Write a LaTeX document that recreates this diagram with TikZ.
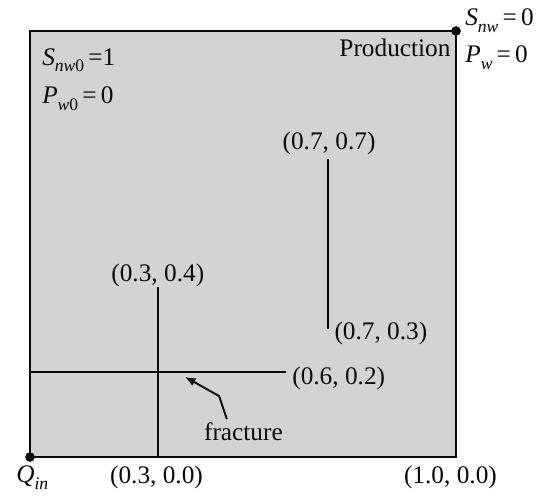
\documentclass[tikz,border=0pt]{standalone}
\usepackage{fontspec}
\setmainfont{Liberation Serif}
\usepackage{xcolor}
\definecolor{fxGray}{RGB}{211,211,211}
\definecolor{fxInk} {RGB}{ 10, 10, 10}
\usepackage{tikz}
\usetikzlibrary{
  arrows.meta,
  positioning,
}

\newcommand{\satvar}[2]{{\itshape #1}\raisebox{-0.27em}{\fontsize{10}{12}\selectfont #2}}

\begin{document}
\begin{tikzpicture}[
  x=8.52cm, y=8.52cm,
  >=Latex,
  reservoir/.style={draw=fxInk, line width=1.3pt, fill=fxGray},
  frac/.style={draw=fxInk, line width=1.1pt},
  lbl/.style={inner sep=0pt, font=\fontsize{14.4}{17}\selectfont, text=fxInk},
  well/.style={circle, fill=fxInk, inner sep=0pt, minimum size=5.5pt},
  pointer/.style={line width=1.1pt, color=fxInk,
                  arrows={-Latex[length=6pt, width=5pt]}},
]
  \useasboundingbox (-0.0704,-0.0939) rectangle (1.2066,1.0728);

  % Unit square reservoir
  \draw[reservoir] (0,0) rectangle (1,1);
  \node[well] (inj)  at (0,0) {};
  \node[well] (prod) at (1,1) {};

  % Fracture end points
  \coordinate (f1a) at (0.3,0.0);
  \coordinate (f1b) at (0.3,0.4);
  \coordinate (f2a) at (0.0,0.2);
  \coordinate (f2b) at (0.6,0.2);
  \coordinate (f3a) at (0.7,0.3);
  \coordinate (f3b) at (0.7,0.7);

  \draw[frac] (f1a) -- (f1b);
  \draw[frac] (f2a) -- (f2b);
  \draw[frac] (f3a) -- (f3b);

  % Coordinate labels
  \node[lbl] (l1b) at (0.300, 0.427) {(0.3, 0.4)};
  \node[lbl] (l1a) at (0.297,-0.047) {(0.3, 0.0)};
  \node[lbl, anchor=west] (l2b) at (0.615, 0.185) {(0.6, 0.2)};
  \node[lbl, anchor=west] (l3a) at (0.714, 0.289) {(0.7, 0.3)};
  \node[lbl] (l3b) at (0.702, 0.737) {(0.7, 0.7)};
  \node[lbl] (lend) at (0.987,-0.047) {(1.0, 0.0)};

  % Initial and boundary conditions
  \node[lbl, anchor=base west] (sinit) at (0.028, 0.920) {\satvar{S}{\itshape nw\upshape 0}\,=1};
  \node[lbl, anchor=base west] (pinit) at (0.028, 0.829) {\satvar{P}{\itshape w\upshape 0}\,=\,0};
  \node[lbl, anchor=base east] (prodlbl) at (0.988, 0.941) {Production};
  \node[lbl, anchor=base west] (sbc) at (1.021, 1.012) {\satvar{S}{\itshape nw}\,=\,0};
  \node[lbl, anchor=base west] (pbc) at (1.021, 0.925) {\satvar{P}{\itshape w}\,=\,0};
  \node[lbl, anchor=base west] (qin) at (-0.033,-0.061) {\satvar{Q}{\itshape in}};

  % Fracture pointer
  \node[lbl] (fraclbl) at (0.501, 0.059) {fracture};
  \coordinate (tail) at (0.462, 0.089);
  \coordinate (bend) at (0.444, 0.143);
  \coordinate (tip)  at (0.364, 0.188);
  \draw[pointer] (tail) -- (bend) -- (tip);
\end{tikzpicture}
\end{document}
